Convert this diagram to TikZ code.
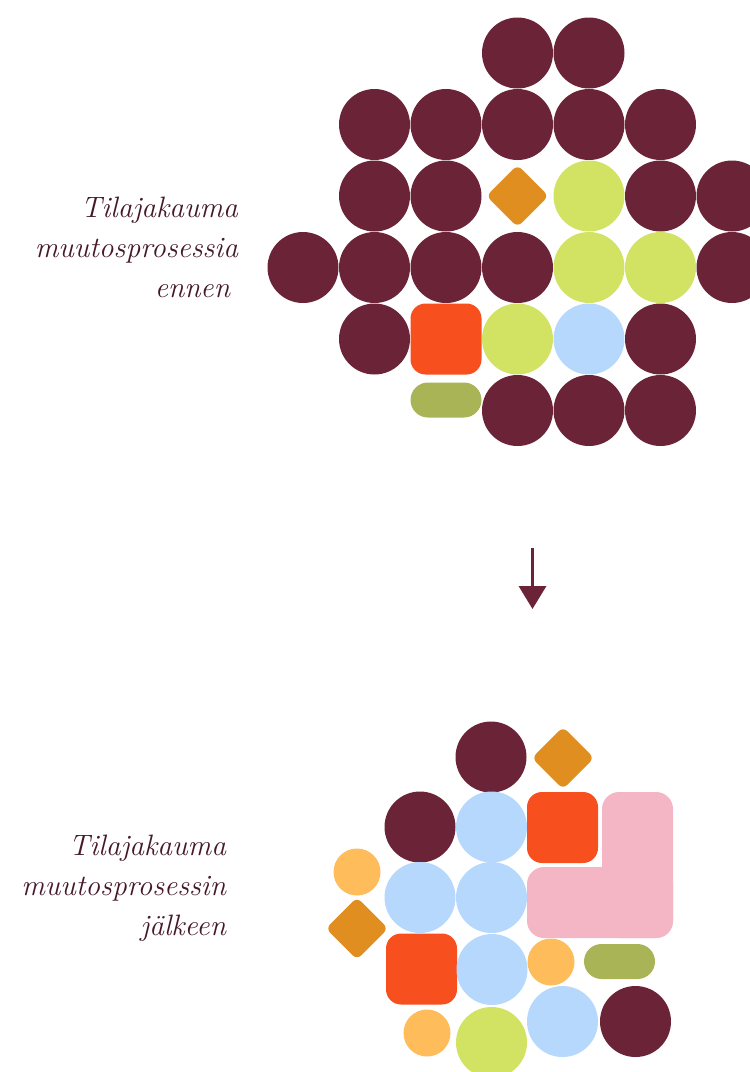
\documentclass[tikz,border=0pt]{standalone}
\usetikzlibrary{arrows.meta}
\definecolor{wine}{HTML}{6B2338}
\definecolor{inkwine}{HTML}{45182A}
\definecolor{lime}{HTML}{D2E262}
\definecolor{sky}{HTML}{B6D8FC}
\definecolor{flame}{HTML}{F7501E}
\definecolor{amber}{HTML}{E18E20}
\definecolor{olive}{HTML}{A8B455}
\definecolor{sun}{HTML}{FEBC5B}
\definecolor{blush}{HTML}{F4B6C5}
\begin{document}
\begin{tikzpicture}[x=1pt,y=-1pt,
  every node/.style={inner sep=0pt,outer sep=0pt},
  dot/.style={circle,fill=#1,minimum size=71pt},
  smalldot/.style={circle,fill=#1,minimum size=47pt},
  tile/.style={rectangle,fill=#1,minimum size=71pt,rounded corners=15pt},
  gem/.style={rectangle,fill=amber,minimum size=44pt,rounded corners=6pt,rotate=45},
  pill/.style={rectangle,fill=olive,minimum width=71pt,minimum height=35pt,rounded corners=17.5pt},
  caption/.style={align=right,font=\itshape\fontsize{29.5}{40}\selectfont,text=inkwine,anchor=base east}]
\useasboundingbox (0,0) rectangle (750,1072);
\clip (0,0) rectangle (750,1072);

% ---- upper cluster: grid of 71.5pt cells
\def\cx#1{303+71.5*#1}
\def\ry#1{53+71.5*#1}
\node[dot=wine] (a03) at ({\cx3},{\ry0}) {};
\node[dot=wine] (a04) at ({\cx4},{\ry0}) {};
\foreach \k in {1,...,5} \node[dot=wine] (a1\k) at ({\cx\k},{\ry1}) {};
\node[dot=wine] (a21) at ({\cx1},{\ry2}) {};
\node[dot=wine] (a22) at ({\cx2},{\ry2}) {};
\node[gem] (a23) at ({\cx3},{\ry2}) {};
\node[dot=lime] (a24) at ({\cx4},{\ry2}) {};
\node[dot=wine] (a25) at ({\cx5},{\ry2}) {};
\node[dot=wine] (a26) at ({\cx6},{\ry2}) {};
\foreach \k in {0,...,3} \node[dot=wine] (a3\k) at ({\cx\k},{\ry3}) {};
\node[dot=lime] (a34) at ({\cx4},{\ry3}) {};
\node[dot=lime] (a35) at ({\cx5},{\ry3}) {};
\node[dot=wine] (a36) at ({\cx6},{\ry3}) {};
\node[dot=wine] (a41) at ({\cx1},{\ry4}) {};
\node[tile=flame] (a42) at ({\cx2},{\ry4}) {};
\node[dot=lime] (a43) at ({\cx3},{\ry4}) {};
\node[dot=sky] (a44) at ({\cx4},{\ry4}) {};
\node[dot=wine] (a45) at ({\cx5},{\ry4}) {};
\node[pill] (a52) at ({\cx2},400) {};
\foreach \k in {3,4,5} \node[dot=wine] (a5\k) at ({\cx\k},{\ry5}) {};

% caption anchored at the baseline of its last line
\node[caption] (capA) at (238,297) {Tilajakauma\\muutosprosessia\\ennen\hspace*{8pt}};

% ---- arrow between the clusters
\coordinate (arrowtop) at (532.5,548);
\coordinate (arrowtip) at (532.5,609);
\draw[wine,line width=3.5pt,-{Triangle[width=27pt,length=23pt]}] (arrowtop) -- (arrowtip);

% ---- lower cluster
\node[dot=wine] (b1) at (491,757) {};
\node[gem] (b2) at (563,758) {};
\node[dot=wine] (b3) at (420,827) {};
\node[dot=sky] (b4) at (491.5,827) {};
\node[tile=flame] (b5) at (562.5,827.5) {};
\fill[blush,rounded corners=17pt] (602,792) rectangle (673,938);
\fill[blush,rounded corners=17pt] (527,867) rectangle (673,938);
\node[smalldot=sun] (b6) at (357,872) {};
\node[dot=sky] (b7) at (420,897.5) {};
\node[dot=sky] (b8) at (491.5,897.5) {};
\node[gem] (b9) at (357,928.5) {};
\node[tile=flame] (b10) at (421.5,969) {};
\node[dot=sky] (b11) at (492,969.5) {};
\node[smalldot=sun] (b12) at (551,962) {};
\node[pill] (b13) at (619.5,961.5) {};
\node[smalldot=sun] (b14) at (427,1033) {};
\node[dot=lime] (b15) at (491.5,1042.5) {};
\node[dot=sky] (b16) at (562.5,1021.5) {};
\node[dot=wine] (b17) at (635.5,1021.5) {};

\node[caption] (capB) at (226,935) {Tilajakauma\\muutosprosessin\\j\"alkeen};
\end{tikzpicture}
\end{document}
